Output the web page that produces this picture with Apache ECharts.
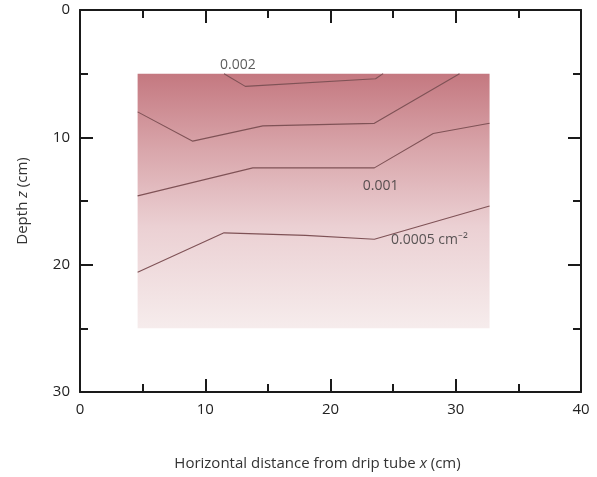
<!DOCTYPE html>
<html><head><meta charset="utf-8">
<script src="https://cdn.jsdelivr.net/npm/echarts@6/dist/echarts.min.js"></script>
<style>html,body{margin:0;padding:0;background:#fff}#c{width:597px;height:477px}</style>
</head><body><div id="c"></div>
<script>
// Shaded domain [xMin, xMax, zMin, zMax]
var domain = [4.6, 32.7, 5, 25];
// Contour lines (x, z)
var c0002 = [[11.5,5.0],[13.2,6.0],[23.6,5.4],[24.2,5.0]];
var c0010a = [[4.6,8.0],[9.0,10.3],[14.6,9.1],[23.5,8.9],[30.3,5.0]];
var c0010b = [[4.6,14.6],[13.8,12.4],[23.5,12.4],[28.2,9.7],[32.7,8.9]];
var c0005 = [[4.6,20.6],[11.5,17.5],[18.0,17.7],[23.5,18.0],[32.7,15.4]];
// Contour labels
var labelText = ['0.002','0.001','0.0005 cm\u207B\u00B2'];
var labelPos = [[12.6,4.3],[24.0,13.8],[27.9,18.1]];
var xTicks = [0,10,20,30,40];
var zTicks = [0,10,20,30];

var font = 'Open Sans';
var chart = echarts.init(document.getElementById('c'));
function axisCommon(show, pad){
  return {
    axisLine:{show:true,onZero:false,lineStyle:{color:'#1a1a1a',width:2}},
    axisTick:{show:true,inside:true,length:13,lineStyle:{color:'#1a1a1a',width:2}},
    minorTick:{show:true,splitNumber:2,length:8,lineStyle:{color:'#1a1a1a',width:2}},
    splitLine:{show:false},
    axisLabel:{show:show,color:'#222',fontSize:15,fontFamily:font,margin:10,padding:pad||0}
  };
}
var lineStyle = {color:'#7f5256',width:1.1};
function lineSeries(d){
  return {type:'line',data:d,showSymbol:false,symbol:'none',lineStyle:lineStyle,z:3,silent:true,animation:false};
}
var nameStyle = {color:'#333',fontSize:15,fontFamily:font};
chart.setOption({
  animation:false,
  grid:{left:80,right:16,top:10,bottom:85},
  xAxis:[
    Object.assign({type:'value',min:xTicks[0],max:xTicks[xTicks.length-1],interval:10,position:'bottom',
      name:'Horizontal distance from drip tube {i|x} (cm)',nameLocation:'middle',nameGap:64,
      nameTextStyle:Object.assign({padding:[0,26,0,0],rich:{i:Object.assign({fontStyle:'italic'},nameStyle)}},nameStyle)},axisCommon(true)),
    Object.assign({type:'value',min:0,max:40,interval:10,position:'top'},axisCommon(false))
  ],
  yAxis:[
    Object.assign({type:'value',min:zTicks[0],max:zTicks[zTicks.length-1],interval:10,inverse:true,position:'left',
      name:'Depth {i|z} (cm)',nameLocation:'middle',nameGap:50,
      nameTextStyle:Object.assign({rich:{i:Object.assign({fontStyle:'italic'},nameStyle)}},nameStyle)},axisCommon(true,[7,0,0,0])),
    Object.assign({type:'value',min:0,max:30,interval:10,inverse:true,position:'right'},axisCommon(false))
  ],
  series:[
    {type:'custom',data:[domain],z:1,silent:true,
     renderItem:function(params,api){
       var p0 = api.coord([api.value(0),api.value(2)]);
       var p1 = api.coord([api.value(1),api.value(3)]);
       return {type:'rect',shape:{x:p0[0],y:p0[1],width:p1[0]-p0[0],height:p1[1]-p0[1]},
         style:{fill:new echarts.graphic.LinearGradient(0,0,0,1,[
           {offset:0,color:'#c47880'},{offset:0.3,color:'#d9a6ab'},{offset:0.6,color:'#ebd0d3'},{offset:1,color:'#f6ecec'}])}};
     }},
    lineSeries(c0002),lineSeries(c0010a),lineSeries(c0010b),lineSeries(c0005),
    {type:'scatter',symbolSize:0,z:4,silent:true,
     data:labelPos.map(function(p,i){return {value:p,name:labelText[i]};}),
     label:{show:true,position:'inside',formatter:function(p){return p.name;},color:'#333',fontSize:14,fontFamily:font}}
  ]
});
</script></body></html>
